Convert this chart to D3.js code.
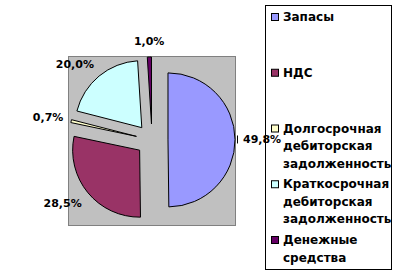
<!DOCTYPE html>
<html>
<head>
<meta charset="utf-8">
<script src="https://cdn.jsdelivr.net/npm/d3@7"></script>
<style>
  html, body { margin: 0; padding: 0; background: #fff; }
  svg { display: block; }
</style>
</head>
<body>
<svg></svg>
<script>
const width = 404;
const height = 274;

// data
const categories = [
  "Запасы",
  "НДС",
  "Долгосрочная дебиторская задолженность",
  "Краткосрочная дебиторская задолженность",
  "Денежные средства"
];
const shares = [49.8, 28.5, 0.7, 20.0, 1.0];
const labels = ["49,8%", "28,5%", "0,7%", "20,0%", "1,0%"];
const colors = ["#9999FF", "#993366", "#FFFFCC", "#CCFFFF", "#660066"];

// layout
const PLOT = { x: 68, y: 56, w: 167, h: 169 };
const CX = 152, CY = 140;
const R = 67;
const EXPLODE = 16;
const LEG = { x: 265, y: 5, w: 126, h: 264 };

const svg = d3.select("svg")
  .attr("width", width)
  .attr("height", height);

/* plot area */
svg.append("rect")
  .attr("x", PLOT.x + 0.5)
  .attr("y", PLOT.y + 0.5)
  .attr("width", PLOT.w)
  .attr("height", PLOT.h)
  .attr("fill", "#C0C0C0")
  .attr("stroke", "#808080")
  .attr("stroke-width", 1);

/* pie */
const pie = d3.pie().sort(null).value(d => d);
const arcs = pie(shares);
const arc = d3.arc().innerRadius(0).outerRadius(R);

function dir(d) {
  const a = (d.startAngle + d.endAngle) / 2;
  return [Math.sin(a), -Math.cos(a)];
}

svg.append("g")
  .selectAll("path")
  .data(arcs)
  .enter()
  .append("path")
  .attr("transform", d => {
    const [dx, dy] = dir(d);
    return `translate(${CX + dx * EXPLODE},${CY + dy * EXPLODE})`;
  })
  .attr("d", arc)
  .attr("fill", (d, i) => colors[i])
  .attr("stroke", "#000")
  .attr("stroke-width", 1)
  .attr("stroke-linejoin", "round");

/* legend */
const legend = svg.append("g");

legend.append("rect")
  .attr("x", LEG.x + 0.5)
  .attr("y", LEG.y + 0.5)
  .attr("width", LEG.w)
  .attr("height", LEG.h)
  .attr("fill", "#fff")
  .attr("stroke", "#000")
  .attr("stroke-width", 1);

const rowY = d3.scalePoint()
  .domain(categories)
  .range([17, 240]);

const item = legend.selectAll("g.item")
  .data(categories)
  .enter()
  .append("g")
  .attr("class", "item")
  .attr("transform", d => `translate(${LEG.x},${rowY(d)})`);

item.append("rect")
  .attr("x", 6.5)
  .attr("y", -3.5)
  .attr("width", 7)
  .attr("height", 7)
  .attr("fill", (d, i) => colors[i])
  .attr("stroke", "#000")
  .attr("stroke-width", 1);

const maxW = LEG.w - 20;
item.each(function (d) {
  const g = d3.select(this);
  const text = g.append("text")
    .attr("x", 18)
    .attr("y", 4)
    .style("font-family", "'DejaVu Sans', Verdana, sans-serif")
    .style("font-size", "12px")
    .style("font-weight", "bold")
    .style("fill", "#000");
  const words = d.split(" ");
  let line = [];
  let tspan = text.append("tspan").attr("x", 18).attr("dy", 0);
  words.forEach(w => {
    line.push(w);
    tspan.text(line.join(" "));
    if (tspan.node().getComputedTextLength() > maxW && line.length > 1) {
      line.pop();
      tspan.text(line.join(" "));
      line = [w];
      tspan = text.append("tspan").attr("x", 18).attr("dy", 17.5).text(w);
    }
  });
});

/* data labels */
const labelG = svg.append("g");

labelG.selectAll("text")
  .data(arcs)
  .enter()
  .append("text")
  .each(function (d, i) {
    const [dx, dy] = dir(d);
    const px = CX + dx * EXPLODE + dx * (R + 8);
    const py = CY + dy * EXPLODE + dy * (R + 4);
    const anchor = Math.abs(dx) < 0.3 ? "middle" : (dx < 0 ? "end" : "start");
    d3.select(this)
      .attr("x", px)
      .attr("y", py + 4 + 12 * dy)
      .attr("text-anchor", anchor)
      .text(labels[i]);
  })
  .style("font-family", "'DejaVu Sans', Verdana, sans-serif")
  .style("font-size", "11px")
  .style("font-weight", "bold")
  .style("fill", "#000");

// short leader for the label sitting right of the pie
labelG.selectAll("line")
  .data(arcs.filter(d => Math.abs(dir(d)[1]) < 0.05))
  .enter()
  .append("line")
  .attr("x1", d => CX + dir(d)[0] * (EXPLODE + R + 2.5))
  .attr("x2", d => CX + dir(d)[0] * (EXPLODE + R + 2.5))
  .attr("y1", d => CY + dir(d)[1] * (EXPLODE + R) - 4)
  .attr("y2", d => CY + dir(d)[1] * (EXPLODE + R) + 4)
  .attr("stroke", "#000")
  .attr("stroke-width", 1);
</script>
</body>
</html>
